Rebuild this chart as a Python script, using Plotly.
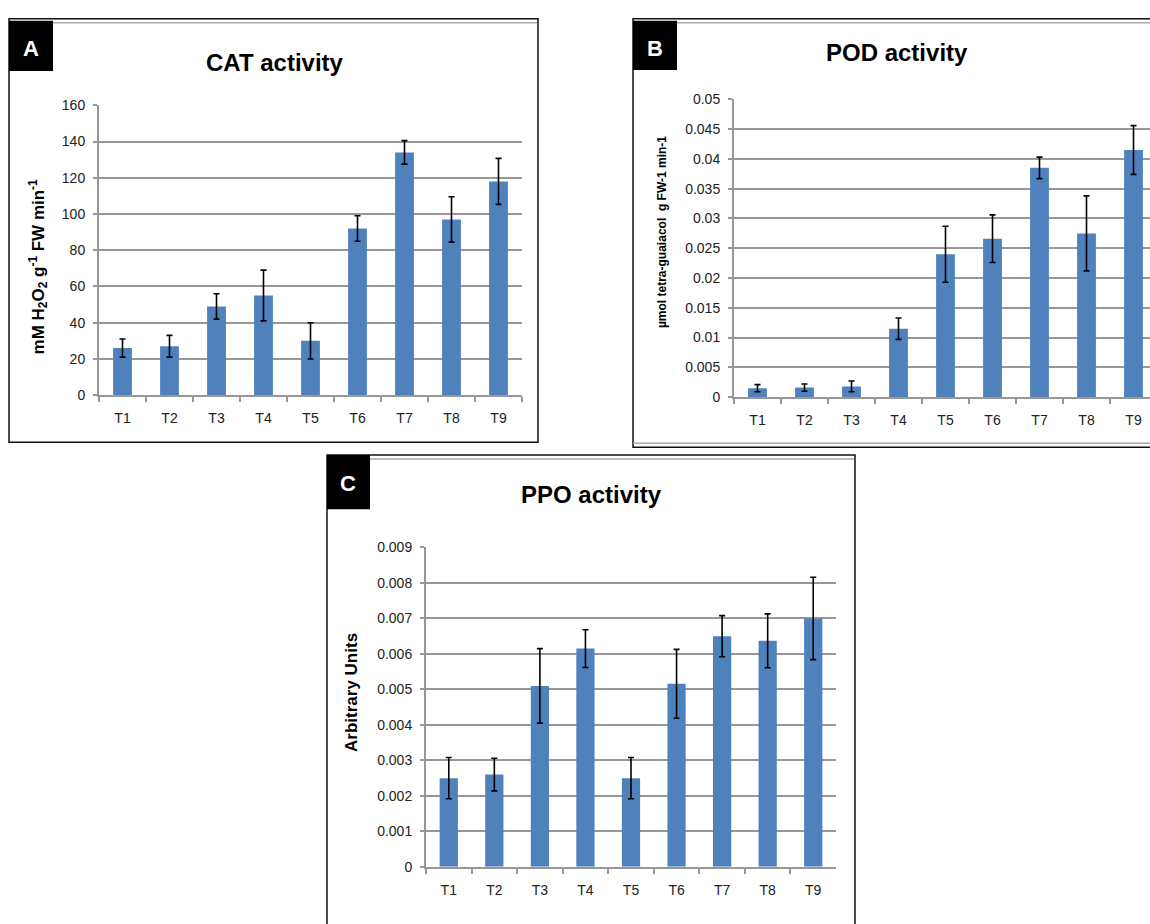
import plotly.graph_objects as go

# ---------------- data ----------------
categories = ["T1", "T2", "T3", "T4", "T5", "T6", "T7", "T8", "T9"]

cat_values = [26, 27, 49, 55, 30, 92, 134, 97, 118]
cat_errors = [5, 6, 7, 14, 10, 7, 6.5, 12.5, 12.7]

pod_values = [0.0015, 0.0016, 0.0018, 0.0115, 0.024, 0.0266, 0.0385, 0.0275, 0.0415]
pod_errors = [0.0006, 0.0006, 0.0009, 0.0018, 0.0047, 0.004, 0.0018, 0.0063, 0.0041]

ppo_values = [0.0025, 0.0026, 0.0051, 0.00615, 0.0025, 0.00516, 0.0065, 0.00637, 0.0070]
ppo_errors = [0.00058, 0.00046, 0.00105, 0.00053, 0.00058, 0.00097, 0.00058, 0.00076, 0.00116]

cat_tickvals = [0, 20, 40, 60, 80, 100, 120, 140, 160]
cat_ticktext = ["0", "20", "40", "60", "80", "100", "120", "140", "160"]
pod_tickvals = [0, 0.005, 0.01, 0.015, 0.02, 0.025, 0.03, 0.035, 0.04, 0.045, 0.05]
pod_ticktext = ["0", "0.005", "0.01", "0.015", "0.02", "0.025", "0.03", "0.035", "0.04", "0.045", "0.05"]
ppo_tickvals = [0, 0.001, 0.002, 0.003, 0.004, 0.005, 0.006, 0.007, 0.008, 0.009]
ppo_ticktext = ["0", "0.001", "0.002", "0.003", "0.004", "0.005", "0.006", "0.007", "0.008", "0.009"]

titles = ["CAT activity", "POD activity", "PPO activity"]
panel_letters = ["A", "B", "C"]
ytitles = ["mM H<sub>2</sub>O<sub>2</sub> g<sup>-1</sup> FW min<sup>-1</sup>",
           "µmol tetra-guaiacol  g FW-1 min-1",
           "Arbitrary Units"]

# ---------------- layout helpers ----------------
W, H = 1150, 924
def px(x):
    return x / W
def py(y):
    return 1 - y / H

BAR = "#4F81BD"
GRID = "#979797"
FONT = "Liberation Sans, Arial, sans-serif"
TICKFONT = dict(family=FONT, size=14, color="#222222")

fig = go.Figure()

panels = [
    dict(xd=(99, 522), yd=(99, 394), xr=(-0.5, 8.5), vals=cat_values, errs=cat_errors,
         tv=cat_tickvals, tt=cat_ticktext, ymax=160),
    dict(xd=(734, 1150), yd=(93, 396), xr=(-0.5, -0.5 + 416 / 47.0), vals=pod_values, errs=pod_errors,
         tv=pod_tickvals, tt=pod_ticktext, ymax=0.05),
    dict(xd=(426, 836), yd=(549, 874), xr=(-0.5, 8.5), vals=ppo_values, errs=ppo_errors,
         tv=ppo_tickvals, tt=ppo_ticktext, ymax=0.009),
]

for i, p in enumerate(panels):
    n = "" if i == 0 else str(i + 1)
    fig.add_trace(go.Bar(
        x=categories, y=p["vals"], marker=dict(color=BAR, line=dict(width=0)),
        error_y=dict(type="data", array=p["errs"], visible=True, color="black", thickness=1.6, width=3),
        xaxis="x" + n, yaxis="y" + n, showlegend=False,
    ))
    fig.layout["xaxis" + n] = dict(
        domain=[px(p["xd"][0]), px(p["xd"][1])], anchor="y" + n,
        type="category", range=list(p["xr"]),
        showline=True, linecolor=GRID, linewidth=2,
        ticks="outside", tickson="boundaries", ticklen=5, tickcolor=GRID, tickwidth=1.5,
        showgrid=False, tickfont=TICKFONT, ticklabelstandoff=9,
    )
    fig.layout["yaxis" + n] = dict(
        domain=[py(p["yd"][1]), py(p["yd"][0])], anchor="x" + n,
        range=[0, p["ymax"]], tickvals=p["tv"], ticktext=p["tt"],
        showline=True, linecolor=GRID, linewidth=2,
        ticks="outside", ticklen=4, tickcolor=GRID, tickwidth=1.5,
        showgrid=True, gridcolor=GRID, gridwidth=2, zeroline=False,
        tickfont=TICKFONT, ticklabelstandoff=5,
    )

shapes = []
annotations = []

def rect(x0, y0, x1, y1, **kw):
    shapes.append(dict(type="rect", xref="paper", yref="paper",
                       x0=px(x0), x1=px(x1), y0=py(y1), y1=py(y0), **kw))

def hline(x0, x1, y, color, w):
    shapes.append(dict(type="line", xref="paper", yref="paper",
                       x0=px(x0), x1=px(x1), y0=py(y), y1=py(y), line=dict(color=color, width=w)))

# panel frames
rect(9, 11, 538, 442, line=dict(color="#111111", width=1.5))
hline(53, 537, 15, "#aaaaaa", 1.5)
rect(633, 11, 1170, 447, line=dict(color="#111111", width=1.5))
hline(677, 1150, 15, "#aaaaaa", 1.5)
hline(633, 1150, 443, "#aaaaaa", 1.5)
rect(327, 455, 855, 960, line=dict(color="#111111", width=1.5))
hline(370, 854, 459, "#aaaaaa", 1.5)

# black label boxes
boxes = [(9, 13, 53, 64), (633, 13, 677, 63), (327, 455, 370, 510)]
letter_pos = [(31, 41), (655, 41), (348, 484)]
for (x0, y0, x1, y1), (lx, ly), letter in zip(boxes, letter_pos, panel_letters):
    rect(x0, y0, x1, y1, fillcolor="black", line=dict(width=0))
    annotations.append(dict(text="<b>%s</b>" % letter, x=px(lx), y=py(ly), xref="paper", yref="paper",
                            showarrow=False, xanchor="center", yanchor="middle",
                            font=dict(family=FONT, size=22, color="white")))

# titles
title_pos = [(275, 55), (897, 45), (591, 495)]
for t, (tx, ty) in zip(titles, title_pos):
    annotations.append(dict(text="<b>%s</b>" % t, x=px(tx), y=py(ty), xref="paper", yref="paper",
                            showarrow=False, xanchor="center", yanchor="middle",
                            font=dict(family=FONT, size=24, color="black")))

# y-axis titles
ytitle_pos = [(38, 263, 17), (662, 228, 12), (352, 697, 17)]
for t, (tx, ty, fs) in zip(ytitles, ytitle_pos):
    annotations.append(dict(text="<b>%s</b>" % t, x=px(tx), y=py(ty), xref="paper", yref="paper",
                            showarrow=False, xanchor="center", yanchor="middle", textangle=-90,
                            font=dict(family=FONT, size=fs, color="black")))

fig.update_layout(
    width=W, height=H, margin=dict(l=0, r=0, t=0, b=0),
    paper_bgcolor="white", plot_bgcolor="white",
    bargap=0.6, shapes=shapes, annotations=annotations,
)

fig.write_html("out.html", config={"displayModeBar": False},
               post_script="document.body.style.margin='0';document.documentElement.style.overflow='hidden';")
